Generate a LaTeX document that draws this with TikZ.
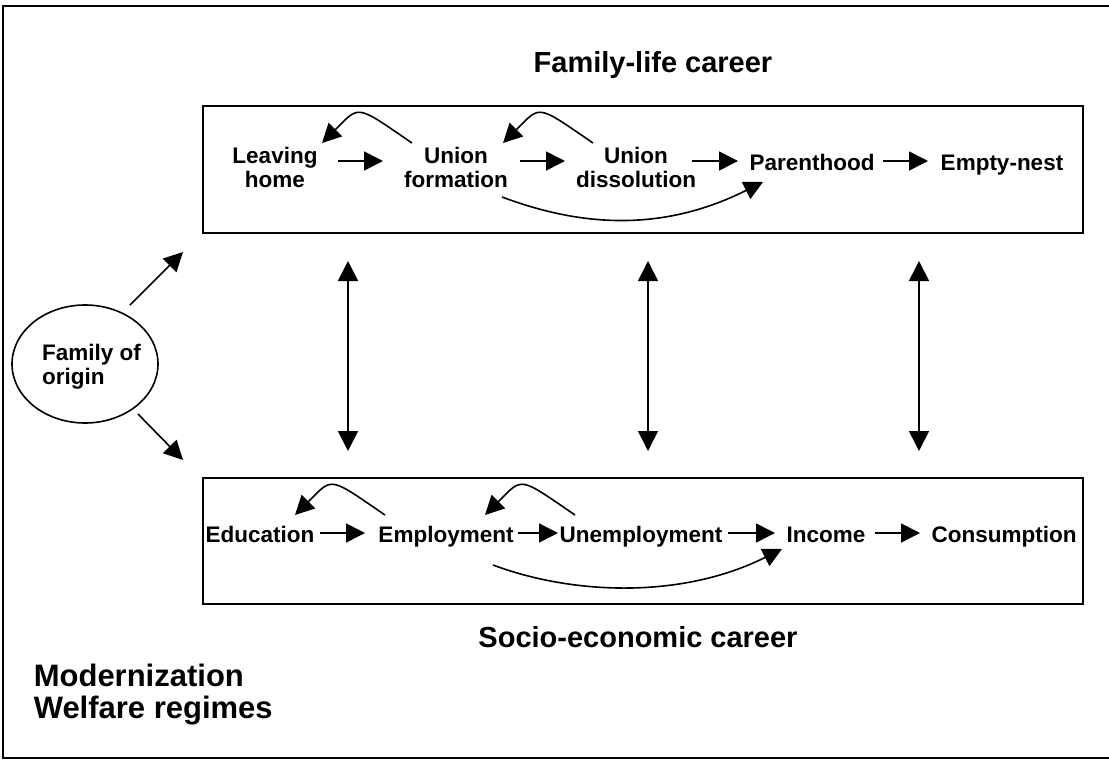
\documentclass[tikz,border=0pt]{standalone}
\usepackage{fontspec}
\setmainfont{Liberation Sans}
\usetikzlibrary{arrows.meta,shapes.geometric}
\begin{document}
\begin{tikzpicture}[x=1pt,y=-1pt,
  line width=1.6pt,
  lbl/.style={font=\fontsize{22.5}{24}\selectfont\bfseries, inner sep=0pt, align=center},
  one/.style={lbl, text height=16.4pt, text depth=4.7pt, anchor=base},
  ttl/.style={font=\fontsize{29}{32}\selectfont\bfseries, inner sep=0pt, anchor=base},
  frame/.style={draw, rectangle, minimum width=880pt, minimum height=127pt, inner sep=0pt, outer sep=0pt},
  arr/.style={-{Triangle[length=19pt,width=19pt]}},
  darr/.style={{Triangle[length=20pt,width=20pt]}-{Triangle[length=20pt,width=20pt]}},
  back/.style={arr, .. controls +(-57,-39) and +(38,-38) ..}
]
\useasboundingbox (0,0) rectangle (1109,760);
% outer frame (open on the right, cropped)
\draw (1109,6) -- (3,6) -- (3,758) -- (1109,758);

% career boxes
\node[frame] (fl) at (643,169.5) {};
\node[frame, minimum height=126pt] (se) at (643,541) {};

% titles
\node[ttl] (flt) at (653,73) {Family-life career};
\node[ttl] (set) at (638,647) {Socio-economic career};

% family-life states
\node[lbl] (lh) at (275,167) {Leaving\\home};
\node[lbl] (uf) at (456,167) {Union\\formation};
\node[lbl] (ud) at (636,167) {Union\\dissolution};
\node[one] (ph) at (812,170) {Parenthood};
\node[one] (en) at (1002,170) {Empty-nest};

% socio-economic states
\node[one] (ed) at (260,542) {Education};
\node[one] (em) at (446,542) {Employment};
\node[one] (un) at (641,542) {Unemployment};
\node[one] (inc) at (826,542) {Income};
\node[one] (co) at (1004,542) {Consumption};

% family of origin
\node[draw, ellipse, minimum width=146pt, minimum height=118pt, inner sep=0pt] (fo) at (85,364) {};
\node[lbl, align=left] (fot) at (91.4,366.6) {Family of\\origin};

% context
\node[font=\fontsize{31}{32}\selectfont\bfseries, inner sep=0pt, align=left, anchor=north west] (mw) at (33,663.4) {Modernization\\Welfare regimes};

% straight arrows, top row
\draw[arr] ([shift={(63,-6)}]lh.center) -- ([shift={(-73,-6)}]uf.center);
\draw[arr] ([shift={(64,-6)}]uf.center) -- ([shift={(-71,-6)}]ud.center);
\draw[arr] ([shift={(56,-6)}]ud.center) -- ([shift={(-74,-3.15)}]ph.center);
\draw[arr] ([shift={(71,-3.15)}]ph.center) -- ([shift={(-74,-3.15)}]en.center);

% straight arrows, bottom row
\draw[arr] ([shift={(60,-3.15)}]ed.center) -- ([shift={(-81,-3.15)}]em.center);
\draw[arr] ([shift={(72,-3.15)}]em.center) -- ([shift={(-83,-3.15)}]un.center);
\draw[arr] ([shift={(87,-3.15)}]un.center) -- ([shift={(-51,-3.15)}]inc.center);
\draw[arr] ([shift={(49,-3.15)}]inc.center) -- ([shift={(-84,-3.15)}]co.center);

% backward curves
\draw[arr] ([shift={(-44,-24)}]uf.center) .. controls +(-57,-39) and +(38,-38) .. ([shift={(47,-24)}]lh.center);
\draw[arr] ([shift={(-43,-24)}]ud.center) .. controls +(-57,-39) and +(38,-38) .. ([shift={(47,-24)}]uf.center);
\draw[arr] ([shift={(-61,-21.15)}]em.center) .. controls +(-57,-39) and +(38,-38) .. ([shift={(35,-21.15)}]ed.center);
\draw[arr] ([shift={(-66,-21.15)}]un.center) .. controls +(-57,-39) and +(38,-38) .. ([shift={(39,-21.15)}]em.center);

% skipping curves
\draw[arr] ([shift={(46,30)}]uf.center) .. controls +(80,30) and +(-100,50) .. ([shift={(-49,17.85)}]ph.center);
\draw[arr] ([shift={(47,28.85)}]em.center) .. controls +(80,30) and +(-100,50) .. ([shift={(-44,12.85)}]inc.center);

% vertical interactions
\draw[darr] ([shift={(-295,28)}]fl.south) -- ([shift={(-295,-27)}]se.north);
\draw[darr] ([shift={(5,28)}]fl.south) -- ([shift={(5,-27)}]se.north);
\draw[darr] ([shift={(276,28)}]fl.south) -- ([shift={(276,-27)}]se.north);

% family of origin influences
\draw[arr] ([shift={(45,-59)}]fo.center) -- ([shift={(-20,19)}]fl.south west);
\draw[arr] ([shift={(53,50)}]fo.center) -- ([shift={(-20,-18)}]se.north west);
\end{tikzpicture}
\end{document}
